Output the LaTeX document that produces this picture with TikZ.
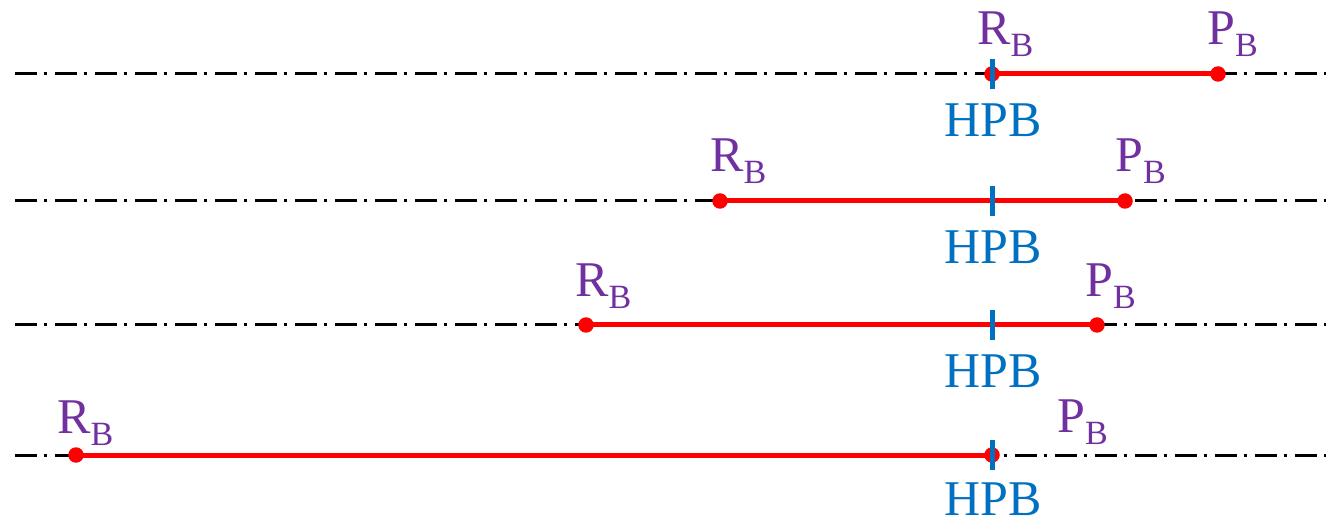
\documentclass[tikz,border=0pt]{standalone}
\usepackage{fontspec}
\setmainfont{Liberation Serif}
\definecolor{lblpurple}{HTML}{7030A0}
\definecolor{hpbblue}{HTML}{0070C0}
\newcommand{\mylabel}[1]{{\fontsize{50}{50}\selectfont #1}\raisebox{-12pt}{\fontsize{34}{34}\selectfont B}}
\begin{document}
\begin{tikzpicture}[x=1pt,y=-1pt,
  axis/.style={black, line width=3pt, dash pattern=on 22pt off 7pt on 3pt off 8pt},
  seg/.style={red, line width=5pt},
  pt/.style={circle, fill=red, inner sep=0pt, minimum size=15.5pt},
  tickmark/.style={draw=hpbblue, line width=5pt},
  lbl/.style={text=lblpurple, inner sep=0pt, anchor=base west},
  hpb/.style={text=hpbblue, inner sep=0pt, anchor=base, font=\fontsize{50}{50}\selectfont}]
\useasboundingbox (0,0) rectangle (1326,521);
% Row 1
\coordinate (a1) at (15,74); \coordinate (b1) at (1326,74);
\draw[axis] (a1) -- (b1);
\node[pt] (r1) at (992,74) {};
\node[pt] (p1) at (1218,74) {};
\draw[seg] (r1.center) -- (p1.center);
\coordinate (t1a) at (992,59); \coordinate (t1b) at (992,89);
\draw[tickmark] (t1a) -- (t1b);
\node[lbl] (lr1) at (977,45) {\mylabel{R}};
\node[lbl] (lp1) at (1207,45) {\mylabel{P}};
\node[hpb] (h1) at (993,137) {HPB};
% Row 2
\coordinate (a2) at (15,201); \coordinate (b2) at (1326,201);
\draw[axis] (a2) -- (b2);
\node[pt] (r2) at (720,201) {};
\node[pt] (p2) at (1125,201) {};
\draw[seg] (r2.center) -- (p2.center);
\coordinate (t2a) at (992,186); \coordinate (t2b) at (992,216);
\draw[tickmark] (t2a) -- (t2b);
\node[lbl] (lr2) at (710,172) {\mylabel{R}};
\node[lbl] (lp2) at (1115,172) {\mylabel{P}};
\node[hpb] (h2) at (993,264) {HPB};
% Row 3
\coordinate (a3) at (15,325); \coordinate (b3) at (1326,325);
\draw[axis] (a3) -- (b3);
\node[pt] (r3) at (586,325) {};
\node[pt] (p3) at (1097,325) {};
\draw[seg] (r3.center) -- (p3.center);
\coordinate (t3a) at (992,310); \coordinate (t3b) at (992,340);
\draw[tickmark] (t3a) -- (t3b);
\node[lbl] (lr3) at (575,297) {\mylabel{R}};
\node[lbl] (lp3) at (1085,297) {\mylabel{P}};
\node[hpb] (h3) at (993,388) {HPB};
% Row 4
\coordinate (a4) at (15,455); \coordinate (b4) at (1326,455);
\draw[axis] (a4) -- (b4);
\node[pt] (r4) at (76,455) {};
\node[pt] (p4) at (992,455) {};
\draw[seg] (r4.center) -- (p4.center);
\coordinate (t4a) at (992,440); \coordinate (t4b) at (992,470);
\draw[tickmark] (t4a) -- (t4b);
\node[lbl] (lr4) at (57,433) {\mylabel{R}};
\node[lbl] (lp4) at (1057,432) {\mylabel{P}};
\node[hpb] (h4) at (993,515) {HPB};
\end{tikzpicture}
\end{document}
